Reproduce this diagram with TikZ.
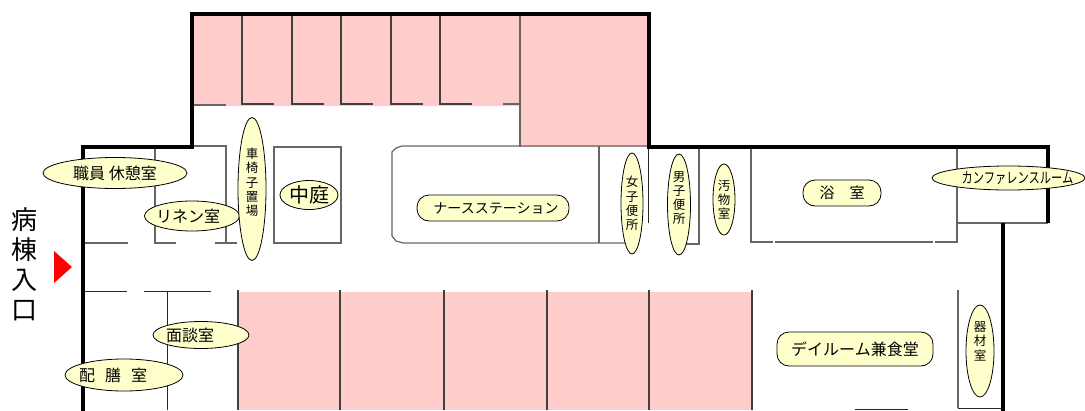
\documentclass[tikz,border=0pt]{standalone}
\usepackage{fontspec}
\setmainfont{Noto Sans CJK JP}
\usetikzlibrary{shapes.geometric}
\definecolor{roompink}{HTML}{FFCCCC}
\definecolor{labelyellow}{HTML}{FFFFCC}
\definecolor{wallgray}{HTML}{666666}
\newcommand{\labelsize}[1]{\fontsize{#1}{#1}\selectfont}
\newcommand{\snug}[1]{\makebox[0pt]{#1}}

\begin{document}
\begin{tikzpicture}[x=1pt,y=-1pt]
        \tikzstyle{wall}=[line width=4.5pt,black,miter limit=10]
        \tikzstyle{thinwall}=[line width=1.2pt,wallgray]
        \tikzstyle{blackline}=[line width=1pt,black!85]
        \tikzstyle{room}=[draw=black,line width=.8pt,fill=labelyellow,ellipse,inner sep=0pt,align=center,text=black]
        \tikzstyle{pill}=[draw=black,line width=.8pt,fill=labelyellow,rectangle,rounded corners=12pt,inner sep=0pt,align=center,text=black]
        \tikzstyle{tall}=[room,font=\fontsize{12.5}{14.2}\selectfont]
        \useasboundingbox (0,0) rectangle (1085,410);
        % pink rooms
        \fill[roompink] (192,14) -- (649,14) -- (649,147) -- (520,147) -- (520,106) -- (192,106) -- cycle;
        \fill[roompink] (238,292) rectangle (752,410);
        % upper rooms
        \foreach \x in {242,292,341,391,440} \draw[thinwall,black!75] (\x,14) -- (\x,104) -- (\x+32,104);
        \draw[thinwall] (192,105) -- (226,105);
        \draw[thinwall] (503,104) -- (520,104);
        \draw[thinwall] (520,14) -- (520,147);
        % left rooms
        \draw[thinwall] (155,147) -- (155,243) -- (176,243);
        \draw[thinwall] (192,146) -- (226,146) -- (226,243);
        \draw[thinwall] (83,243) -- (128,243);
        \draw[thinwall] (215,243) -- (237,243);
        \draw[thinwall] (274,147) rectangle (341,243);
        \draw[blackline] (83,291) -- (127,291);
        \draw[blackline] (144,291) -- (211,291);
        \draw[blackline] (167,291) -- (167,410);
        % lower rooms
        \foreach \x in {238,340,444,547,649,752} \draw[thinwall,black!75] (\x,290) -- (\x,410);
        % station and toilets
        \draw[thinwall] (649,146) -- (402,146) -- (396,148) -- (392,152) -- (392,236) -- (396,241) -- (403,243) -- (625,243);
        \draw[thinwall] (599,146) -- (599,243);
        \draw[blackline] (648,147) -- (648,223);
        \draw[thinwall] (699,147) -- (699,244) -- (686,244);
        % bath and right rooms
        \draw[thinwall] (751,145) -- (751,242) -- (773,242);
        \draw[thinwall] (775,242) -- (933,242);
        \draw[thinwall] (935,242) -- (957,242) -- (957,147);
        \draw[thinwall] (957,223) -- (1048,223);
        \draw[thinwall] (958,290) -- (958,408);
        \draw[blackline] (958,408) -- (1003,408);
        \draw[blackline] (855,409) -- (908,409);
        % outer walls
        \draw[wall] (83,412) -- (83,147) -- (192,147) -- (192,14) -- (649,14) -- (649,147) -- (1048,147) -- (1048,223);
        \draw[wall] (1003,223) -- (1003,412);
        % entrance
        \fill[red] (54,251) -- (72,267) -- (54,283) -- cycle;
        \node[align=center,inner sep=0pt,font=\fontsize{26}{30}\selectfont] (entrance) at (24,264) {病\\棟\\入\\口};
        % labels
        \node[room,minimum width=144pt,minimum height=31pt,font=\labelsize{16}] (staffroom) at (115,173) {\snug{職員 休憩室}};
        \node[room,minimum width=95pt,minimum height=30pt,font=\labelsize{16}] (linen) at (192,216) {\snug{リネン室\hspace{8pt}}};
        \node[tall,minimum width=28pt,minimum height=143pt] (wheelchair) at (252,189) {車\\椅\\子\\置\\場\\\mbox{}};
        \node[room,minimum width=58pt,minimum height=29pt,font=\labelsize{20}] (courtyard) at (309,195) {\snug{中庭}};
        \node[room,minimum width=96pt,minimum height=27pt,font=\labelsize{16}] (interview) at (201,335) {\snug{\raisebox{-4pt}{面談室}\hspace{22pt}}};
        \node[room,minimum width=118pt,minimum height=32pt,font=\labelsize{16}] (pantry) at (124,375) {\snug{配\hspace{10pt}膳\hspace{10pt}室\hspace{22pt}}};
        \node[pill,minimum width=152pt,minimum height=26pt,font=\labelsize{14}] (station) at (493,208) {\snug{\hspace{6pt}ナースステーション}};
        \node[tall,minimum width=22pt,minimum height=101pt] (womens) at (632,203.500) {女\\子\\便\\所};
        \node[tall,minimum width=23pt,minimum height=101pt] (mens) at (679,204.500) {男\\子\\便\\所\\\mbox{}};
        \node[tall,minimum width=22pt,minimum height=71pt] (utility) at (724,199.500) {汚\\物\\室};
        \node[pill,minimum width=78pt,minimum height=26pt,font=\labelsize{15}] (bath) at (842,193) {\snug{浴　室}};
        \node[room,minimum width=153pt,minimum height=24pt,font=\labelsize{15}] (conference) at (1008.500,178) {\snug{\hspace{18pt}\scalebox{.75}[1]{カンファレンスルーム}}};
        \node[pill,minimum width=156pt,minimum height=34pt,font=\labelsize{16}] (dayroom) at (855,349) {\snug{デイルーム兼食堂}};
        \node[tall,minimum width=28pt,minimum height=92pt] (equipment) at (980,351) {器\\材\\室\\[6pt]\mbox{}};
    \end{tikzpicture}
\end{document}
